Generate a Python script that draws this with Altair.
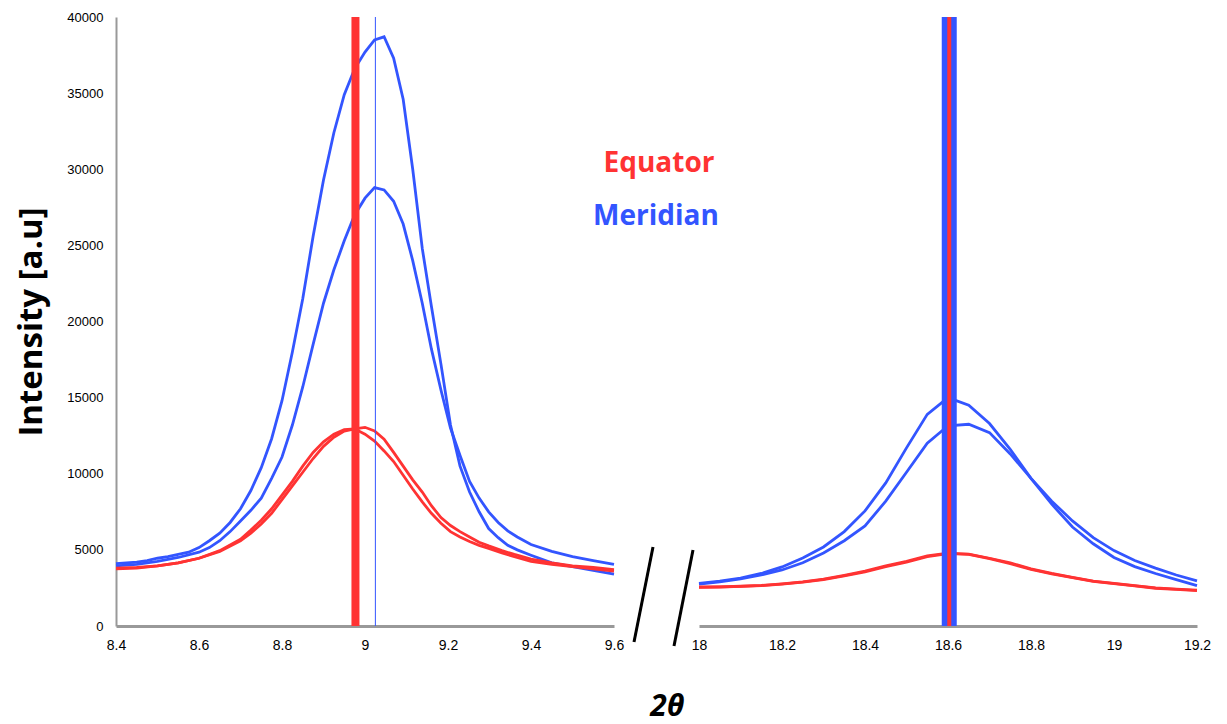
import altair as alt
import pandas as pd

RED = "#FF3333"
BLUE = "#3355FF"

# ---------------- Left window (2θ 8.4 – 9.6) ----------------
mer1_x = [8.400, 8.425, 8.450, 8.475, 8.500, 8.525, 8.550, 8.575, 8.600, 8.625, 8.650, 8.675,
          8.700, 8.725, 8.750, 8.775, 8.800, 8.825, 8.850, 8.875, 8.900, 8.925, 8.950, 8.975,
          9.000, 9.023, 9.046, 9.069, 9.092, 9.115, 9.138, 9.160, 9.183, 9.206, 9.229, 9.252,
          9.275, 9.298, 9.321, 9.344, 9.367, 9.400, 9.450, 9.500, 9.550, 9.600]
mer1_y = [4100, 4150, 4200, 4300, 4450, 4550, 4700, 4850, 5150, 5600, 6100, 6800,
          7700, 8900, 10400, 12300, 14800, 18000, 21500, 25600, 29300, 32400, 34900, 36600,
          37700, 38500, 38700, 37300, 34600, 30000, 24800, 21000, 17200, 13200, 10500, 8800,
          7500, 6400, 5800, 5300, 5000, 4650, 4150, 3900, 3650, 3400]

mer2_x = [8.400, 8.450, 8.500, 8.550, 8.600, 8.625, 8.650, 8.675, 8.700, 8.725, 8.750, 8.775,
          8.800, 8.825, 8.850, 8.875, 8.900, 8.925, 8.950, 8.975, 9.000, 9.023, 9.046, 9.069,
          9.092, 9.115, 9.138, 9.160, 9.183, 9.206, 9.229, 9.252, 9.275, 9.298, 9.321, 9.344,
          9.367, 9.400, 9.450, 9.500, 9.550, 9.600]
mer2_y = [3950, 4050, 4250, 4500, 4850, 5150, 5600, 6200, 6900, 7600, 8400, 9700,
          11100, 13200, 15700, 18500, 21200, 23400, 25300, 27000, 28100, 28800, 28640, 27900,
          26400, 24000, 21200, 18200, 15500, 13000, 11200, 9500, 8400, 7500, 6800, 6250,
          5850, 5350, 4900, 4550, 4300, 4050]

equ1_x = [8.400, 8.450, 8.500, 8.550, 8.600, 8.650, 8.700, 8.725, 8.750, 8.775, 8.800, 8.825,
          8.850, 8.875, 8.900, 8.925, 8.950, 8.975, 9.000, 9.023, 9.046, 9.069, 9.092, 9.115,
          9.138, 9.160, 9.183, 9.206, 9.229, 9.252, 9.275, 9.298, 9.330, 9.360, 9.400, 9.450,
          9.500, 9.550, 9.600]
equ1_y = [3800, 3850, 3950, 4150, 4450, 4900, 5600, 6100, 6700, 7400, 8300, 9200,
          10100, 11000, 11800, 12400, 12800, 12950, 13050, 12810, 12270, 11400, 10500, 9600,
          8800, 7900, 7120, 6600, 6200, 5850, 5500, 5260, 4950, 4700, 4400, 4150,
          3950, 3850, 3700]

equ2_x = equ1_x
equ2_y = [3750, 3800, 3950, 4150, 4450, 4950, 5700, 6300, 6950, 7700, 8600, 9500,
          10500, 11400, 12100, 12600, 12900, 12950, 12600, 12150, 11500, 10800, 9900, 9000,
          8150, 7400, 6750, 6200, 5850, 5550, 5300, 5100, 4800, 4550, 4250, 4050,
          3900, 3750, 3600]

left_equator_peak = [8.977]
left_meridian_peak = [9.025]
left_ticks = [8.4, 8.6, 8.8, 9.0, 9.2, 9.4, 9.6]

# ---------------- Right window (2θ 18 – 19.2) ----------------
right_x = [18.00, 18.05, 18.10, 18.15, 18.20, 18.25, 18.30, 18.35, 18.40, 18.45, 18.50, 18.55,
           18.60, 18.65, 18.70, 18.75, 18.80, 18.85, 18.90, 18.95, 19.00, 19.05, 19.10, 19.15,
           19.20]
mer3_y = [2800, 2950, 3150, 3450, 3880, 4470, 5190, 6200, 7560, 9400, 11700, 13900,
          15000, 14500, 13300, 11600, 9700, 8000, 6500, 5400, 4500, 3900, 3450, 3050,
          2650]
mer4_y = [2750, 2900, 3100, 3350, 3680, 4150, 4800, 5600, 6570, 8200, 10100, 12000,
          13150, 13250, 12700, 11300, 9700, 8200, 6900, 5800, 4950, 4300, 3800, 3350,
          2960]
equ3_y = [2560, 2570, 2600, 2650, 2750, 2880, 3050, 3300, 3550, 3900, 4200, 4550,
          4750, 4720, 4450, 4150, 3750, 3450, 3200, 2950, 2800, 2650, 2500, 2420,
          2350]
equ4_y = [2540, 2560, 2610, 2670, 2770, 2900, 3080, 3330, 3600, 3950, 4250, 4600,
          4780, 4700, 4420, 4100, 3720, 3420, 3170, 2930, 2780, 2630, 2480, 2400,
          2330]

right_meridian_peak = [18.603]
right_equator_peak = [18.603]
right_ticks = [18.0, 18.2, 18.4, 18.6, 18.8, 19.0, 19.2]

y_ticks = [0, 5000, 10000, 15000, 20000, 25000, 30000, 35000, 40000]


def frame(xs, ys, scan, group):
    return pd.DataFrame({"two_theta": xs, "intensity": ys, "scan": scan, "group": group})


left_mer = pd.concat([frame(mer1_x, mer1_y, "m1", "Meridian"), frame(mer2_x, mer2_y, "m2", "Meridian")])
left_equ = pd.concat([frame(equ1_x, equ1_y, "e1", "Equator"), frame(equ2_x, equ2_y, "e2", "Equator")])
right_mer = pd.concat([frame(right_x, mer3_y, "m3", "Meridian"), frame(right_x, mer4_y, "m4", "Meridian")])
right_equ = pd.concat([frame(right_x, equ3_y, "e3", "Equator"), frame(right_x, equ4_y, "e4", "Equator")])

W, H = 498, 609
LABEL_FONT = "Liberation Sans"

yscale = alt.Scale(domain=[0, 40000], nice=False, zero=True)


def x_axis(vals):
    return alt.Axis(values=vals, format="~g", title=None, ticks=False, grid=False,
                    domainColor="#999999", domainWidth=3, labelFont=LABEL_FONT,
                    labelFontSize=14, labelColor="black", labelPadding=12,
                    labelFlush=False, labelOverlap=False)


y_axis_left = alt.Axis(values=y_ticks, format="d", ticks=False, grid=False,
                       domainColor="#999999", domainWidth=2, labelFont=LABEL_FONT,
                       labelFontSize=13, labelColor="black", labelPadding=13,
                       title="Intensity [a.u]", titleFont="Open Sans", titleFontSize=33,
                       titleFontWeight="bold", titleColor="black", titlePadding=18)


def lines(df, color, xdom, xaxis, yaxis):
    return alt.Chart(df).mark_line(color=color, strokeWidth=2.8).encode(
        x=alt.X("two_theta:Q", scale=alt.Scale(domain=xdom, nice=False, zero=False), axis=xaxis),
        y=alt.Y("intensity:Q", scale=yscale, axis=yaxis),
        detail="scan:N",
    )


def vrule(vals, color, width):
    return alt.Chart(pd.DataFrame({"pos": vals})).mark_rule(color=color, strokeWidth=width).encode(
        x="pos:Q")


def label(text, color, px, py):
    return alt.Chart(pd.DataFrame({"t": [text]})).mark_text(
        color=color, font="Open Sans", fontSize=28, fontWeight="bold", align="center",
        baseline="middle").encode(text="t:N", x=alt.value(px), y=alt.value(py))


def slash(x1, y1, x2, y2):
    return alt.Chart(pd.DataFrame({"k": [0]})).mark_rule(color="black", strokeWidth=3).encode(
        x=alt.value(x1), y=alt.value(y1), x2=alt.value(x2), y2=alt.value(y2))


left = alt.layer(
    lines(left_mer, BLUE, [8.4, 9.6], x_axis(left_ticks), y_axis_left),
    lines(left_equ, RED, [8.4, 9.6], x_axis(left_ticks), y_axis_left),
    vrule(left_equator_peak, RED, 8),
    vrule(left_meridian_peak, BLUE, 1),
    label("Equator", RED, 543, 147),
    label("Meridian", BLUE, 540, 200),
    slash(537, 530, 518, 625),
    slash(577, 533, 558, 629),
).properties(width=W, height=H)

right = alt.layer(
    lines(right_mer, BLUE, [18.0, 19.2], x_axis(right_ticks), None),
    lines(right_equ, RED, [18.0, 19.2], x_axis(right_ticks), None),
    vrule(right_meridian_peak, BLUE, 15),
    vrule(right_equator_peak, RED, 4),
).properties(width=W, height=H)

chart = alt.hconcat(left, right, spacing=85, bounds="flush").properties(
    title=alt.Title("2θ", orient="bottom", anchor="middle", font="Open Sans", fontSize=30,
                    fontWeight="bold", fontStyle="italic", color="black", offset=40, dx=54),
    padding={"left": 15, "top": 9, "right": 10, "bottom": 5},
).configure_view(stroke=None)

chart.save("out.html", embed_options={"renderer": "svg", "actions": False})
